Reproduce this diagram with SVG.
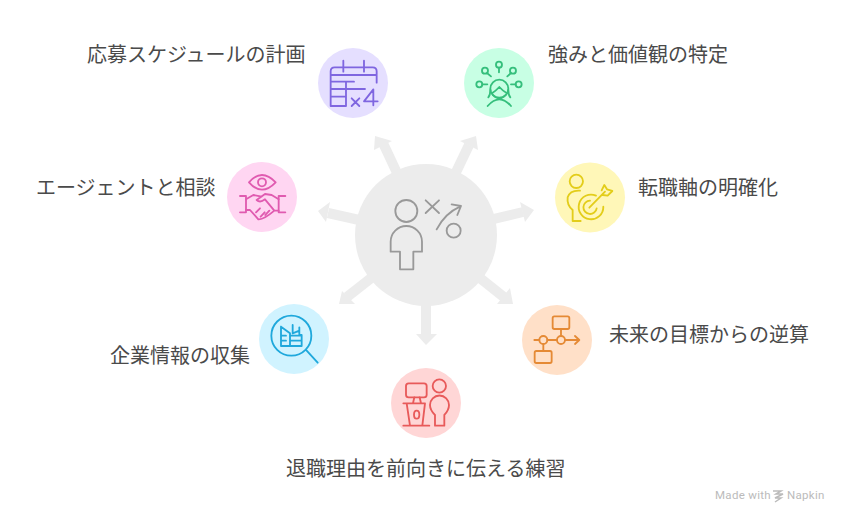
<svg xmlns="http://www.w3.org/2000/svg" width="847" height="523" viewBox="0 0 847 523">
<style>
.lb{font-family:"Noto Sans CJK JP","Noto Sans",sans-serif;font-size:20px;fill:#4a4a4a}
.ic{fill:none;stroke-width:5.500;stroke-linecap:round;stroke-linejoin:round}
.sh{stroke:#ececec;stroke-width:10;fill:none}
.hd{fill:#ececec}
.wm{font-family:"Roboto","Liberation Sans",sans-serif;font-size:11.500px;fill:#bbb;letter-spacing:.3px}
</style>
<rect width="847" height="523" fill="#fff"/>
<g id="connectors">
<line class="sh" x1="426" y1="235" x2="383" y2="143"/><polygon class="hd" points="375,136 392,141 374,150"/>
<line class="sh" x1="426" y1="235" x2="469" y2="145"/><polygon class="hd" points="476,136 460,141 478,150"/>
<line class="sh" x1="426" y1="235" x2="328" y2="213"/><polygon class="hd" points="318,211 330,202 326,222"/>
<line class="sh" x1="426" y1="235" x2="523" y2="212"/><polygon class="hd" points="534,210 520,202 525,222"/>
<line class="sh" x1="426" y1="235" x2="347" y2="297"/><polygon class="hd" points="339,304 342,291 355,304"/>
<line class="sh" x1="426" y1="235" x2="505" y2="298"/><polygon class="hd" points="513,304 497,304 510,288"/>
<line class="sh" x1="426" y1="235" x2="426" y2="336"/><polygon class="hd" points="426,345 416,334 437,334"/>
</g>
<g id="center">
<circle cx="426" cy="235" r="71" fill="#ececec"/>
<g class="ic" stroke="#999" transform="translate(350 160) scale(.3333)">
<circle cx="169" cy="153" r="33"/>
<path d="M150 328V275H122V245A47 47 0 0 1 216 245V275H190V328Z"/>
<path d="M227 121L267 159M267 121L227 159"/>
<path d="M260 208Q285 160 330 140M305 133L333 138L322 165"/>
<circle cx="311" cy="212" r="21"/>
</g>
</g>
<g id="node-schedule">
<circle cx="353" cy="83" r="35" fill="#e5dfff"/>
<g class="ic" stroke="#7f66e0" transform="translate(310 40) scale(.3333)">
<path d="M108 198H62V94Q62 82 74 82H188Q200 82 200 94V128M100 62V95M162 62V95M62 105H200M62 125H132M62 147H165M62 170H108M108 125V198"/>
<path d="M125 175L148 198M148 175L125 198M190 196V148L162 184H203"/>
</g>
</g>
<text class="lb" x="87" y="62">応募スケジュールの計画</text>
<g id="node-strengths">
<circle cx="499" cy="83" r="35" fill="#c8ffe4"/>
<g class="ic" stroke="#35bf7c" transform="translate(310 40) scale(.3333)">
<circle cx="568" cy="146" r="27"/>
<path d="M546 160Q560 150 568 141Q578 152 591 160M549 165Q568 186 587 165M533 198Q568 158 603 198M541 150Q541 165 535 172M595 150Q595 165 601 172"/>
<circle cx="567" cy="74" r="9"/><path d="M567 83V97"/>
<circle cx="525" cy="92" r="9"/><path d="M531 99L543 109"/>
<circle cx="609" cy="92" r="9"/><path d="M603 99L592 109"/>
<circle cx="508" cy="133" r="9"/><path d="M517 133H532"/>
<circle cx="626" cy="133" r="9"/><path d="M617 133H603"/>
</g>
</g>
<text class="lb" x="548" y="62">強みと価値観の特定</text>
<g id="node-agent">
<circle cx="262" cy="197" r="35" fill="#ffd6f2"/>
<g class="ic" stroke="#e05bb0" transform="translate(220 155) scale(.3333)">
<path d="M87 82Q125 38 167 82Q125 126 87 82Z"/><circle cx="126" cy="82" r="12"/>
<path d="M60 123H78V172H60M196 123H176V172H196"/>
<path d="M78 133L100 120L125 125M110 135L135 117L155 120L176 133M110 135Q120 145 135 133L163 167H176M78 165H90L115 193Q130 195 163 167M108 172L120 160M122 185L134 172M136 180L148 167"/>
</g>
</g>
<text class="lb" x="36" y="195">エージェントと相談</text>
<g id="node-axis">
<circle cx="590" cy="197.500" r="35" fill="#fff7b8"/>
<g class="ic" stroke="#e3cd1a" transform="translate(510 155) scale(.3333)">
<circle cx="199" cy="79" r="20"/>
<path d="M212 198H188V165Q170 150 173 127Q180 105 210 107"/>
<path d="M258 122A37 37 0 1 0 280 155"/>
<path d="M240 137A20 20 0 1 0 260 160"/>
<path d="M238 158L285 110M275 106L283 90L291 103L307 108L293 122L278 120"/>
</g>
</g>
<text class="lb" x="638" y="195">転職軸の明確化</text>
<g id="node-research">
<circle cx="294" cy="339" r="35" fill="#d0f3ff"/>
<g class="ic" stroke="#1fa8dc" transform="translate(250 270) scale(.3333)">
<circle cx="124" cy="197" r="60"/>
<path d="M168 240L203 278"/>
<path d="M93 170V228H155V195H148V172M93 170L120 190V228M128 190V165M148 172V182L128 190M120 197H155M93 197H108M93 212H108M120 212H155"/>
</g>
</g>
<text class="lb" x="110" y="363">企業情報の収集</text>
<g id="node-backcast">
<circle cx="557" cy="340" r="35" fill="#ffe0c8"/>
<g class="ic" stroke="#e58a35" transform="translate(470 270) scale(.3333)">
<rect x="248" y="139" width="50" height="38" rx="5"/>
<path d="M273 177V198M193 210H208M232 210H261M285 210H328M315 198L328 210L315 222M220 222V243"/>
<circle cx="273" cy="210" r="12"/><circle cx="220" cy="210" r="12"/>
<rect x="194" y="243" width="51" height="36" rx="5"/>
</g>
</g>
<text class="lb" x="609" y="342">未来の目標からの逆算</text>
<g id="node-practice">
<circle cx="426" cy="403" r="35" fill="#ffd6d6"/>
<g class="ic" stroke="#e85a5a" transform="translate(385 300) scale(.3333)">
<rect x="63" y="250" width="62" height="42" rx="8"/>
<path d="M88 292L84 310M104 292L108 310M55 310H120M65 310L75 377M120 310L112 377M55 377H133"/>
<ellipse cx="95" cy="344" rx="8" ry="12"/>
<circle cx="163" cy="258" r="20"/>
<path d="M150 377V345Q135 330 135 315A28 28 0 0 1 192 315Q192 330 178 345V377Z"/>
</g>
</g>
<text class="lb" x="286" y="476">退職理由を前向きに伝える練習</text>
<g id="watermark">
<text class="wm" x="715" y="499">Made with</text>
<path d="M773 491H781L776 494H783L775 498H781L775 502" fill="none" stroke="#bbb" stroke-width="1.500"/>
<text class="wm" x="787" y="499">Napkin</text>
</g>
</svg>
